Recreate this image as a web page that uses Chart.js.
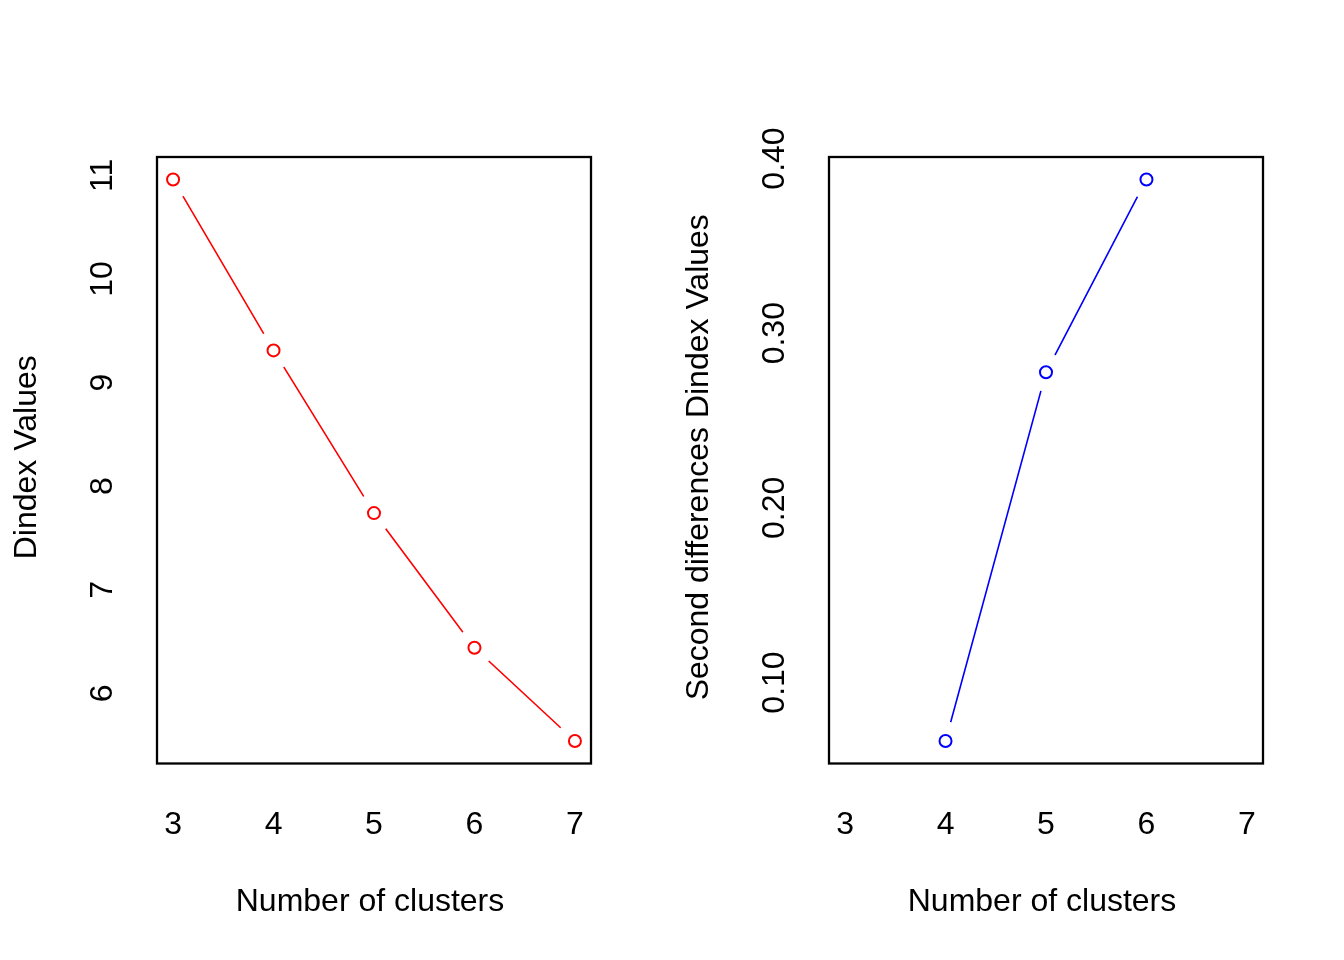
<!DOCTYPE html>
<html>
<head>
<meta charset="utf-8">
<script src="https://cdn.jsdelivr.net/npm/chart.js@4"></script>
<style>
  html, body { margin: 0; padding: 0; background: #ffffff; }
  #wrap { position: relative; width: 1344px; height: 960px; background: #ffffff; }
  canvas { position: absolute; top: 0; }
  #c1 { left: 0; }
  #c2 { left: 672px; }
</style>
</head>
<body>
<div id="wrap">
  <canvas id="c1" width="672" height="960"></canvas>
  <canvas id="c2" width="672" height="960"></canvas>
</div>
<script>
// ---- data ----
const clusters = [3, 4, 5, 6, 7];
const dindexValues = [10.96, 9.31, 7.74, 6.44, 5.54];
const secondDiffValues = [null, 0.0665, 0.2776, 0.388, null];
const xTickValues = [3, 4, 5, 6, 7];
const leftYTicks = [6, 7, 8, 9, 10, 11];
const rightYTicks = [0.10, 0.20, 0.30, 0.40];
const xTitle = 'Number of clusters';
const leftYTitle = 'Dindex Values';
const rightYTitle = 'Second differences Dindex Values';

const FONT = '32px "Liberation Sans", Arial, sans-serif';
const GAP = 19.5;

function rPlotPlugin(cfg) {
  return {
    id: 'rplot',
    beforeDatasetDraw(chart, args) {
      if (args.index !== 0) return;
      const ctx = chart.ctx;
      const meta = chart.getDatasetMeta(1);
      ctx.save();
      ctx.beginPath();
      ctx.rect(0, 0, chart.width, chart.height);
      meta.data.forEach(p => {
        if (p.skip || !isFinite(p.x) || !isFinite(p.y)) return;
        ctx.moveTo(p.x + GAP, p.y);
        ctx.arc(p.x, p.y, GAP, 0, Math.PI * 2);
      });
      ctx.clip('evenodd');
    },
    afterDatasetDraw(chart, args) {
      if (args.index === 0) chart.ctx.restore();
    },
    afterDraw(chart) {
      const ctx = chart.ctx;
      const a = chart.chartArea;
      const xs = chart.scales.x, ys = chart.scales.y;
      ctx.save();
      // box
      ctx.strokeStyle = '#000000';
      ctx.lineWidth = 2.3;
      ctx.strokeRect(a.left, a.top, a.right - a.left, a.bottom - a.top);
      ctx.fillStyle = '#000000';
      ctx.font = FONT;
      // x tick labels
      ctx.textAlign = 'center';
      ctx.textBaseline = 'alphabetic';
      xTickValues.forEach(v => {
        ctx.fillText(String(v), xs.getPixelForValue(v), a.bottom + 70.5);
      });
      // x title
      ctx.fillText(xTitle, (a.left + a.right) / 2 - 4, 911);
      // y tick labels (rotated)
      cfg.yTicks.forEach(v => {
        ctx.save();
        ctx.translate(a.left - 45, ys.getPixelForValue(v));
        ctx.rotate(-Math.PI / 2);
        ctx.textAlign = 'center';
        ctx.textBaseline = 'alphabetic';
        ctx.fillText(cfg.fmt(v), 0, 0);
        ctx.restore();
      });
      // y title
      ctx.save();
      ctx.translate(a.left - 121.5, (a.top + a.bottom) / 2 - 3);
      ctx.rotate(-Math.PI / 2);
      ctx.textAlign = 'center';
      ctx.textBaseline = 'alphabetic';
      ctx.fillText(cfg.yTitle, 0, 0);
      ctx.restore();
      ctx.restore();
    }
  };
}

function makePanel(id, values, color, yTicks, fmt, yTitle) {
  const finite = values.filter(v => v !== null);
  const lo = Math.min(...finite), hi = Math.max(...finite);
  const ypad = (hi - lo) * 0.04;
  const xlo = Math.min(...clusters), xhi = Math.max(...clusters);
  const xpad = (xhi - xlo) * 0.04;
  const pts = clusters.map((x, i) => ({ x: x, y: values[i] }));
  return new Chart(document.getElementById(id), {
    type: 'line',
    data: {
      datasets: [
        {
          data: pts,
          borderColor: color,
          borderWidth: 1.6,
          pointRadius: 0,
          fill: false,
          tension: 0,
          spanGaps: false
        },
        {
          data: pts,
          showLine: false,
          borderColor: color,
          backgroundColor: 'rgba(0,0,0,0)',
          pointRadius: 6,
          pointBorderWidth: 2,
          pointStyle: 'circle',
          clip: false
        }
      ]
    },
    options: {
      responsive: false,
      animation: false,
      devicePixelRatio: 1,
      layout: { padding: { left: 157, top: 157, right: 81, bottom: 196.5 } },
      plugins: { legend: { display: false }, tooltip: { enabled: false } },
      events: [],
      scales: {
        x: { type: 'linear', display: false, min: xlo - xpad, max: xhi + xpad },
        y: { type: 'linear', display: false, min: lo - ypad, max: hi + ypad }
      }
    },
    plugins: [rPlotPlugin({ yTicks: yTicks, fmt: fmt, yTitle: yTitle })]
  });
}

makePanel('c1', dindexValues, '#ff0000', leftYTicks, v => String(v), leftYTitle);
makePanel('c2', secondDiffValues, '#0000ff', rightYTicks, v => v.toFixed(2), rightYTitle);
</script>
</body>
</html>
